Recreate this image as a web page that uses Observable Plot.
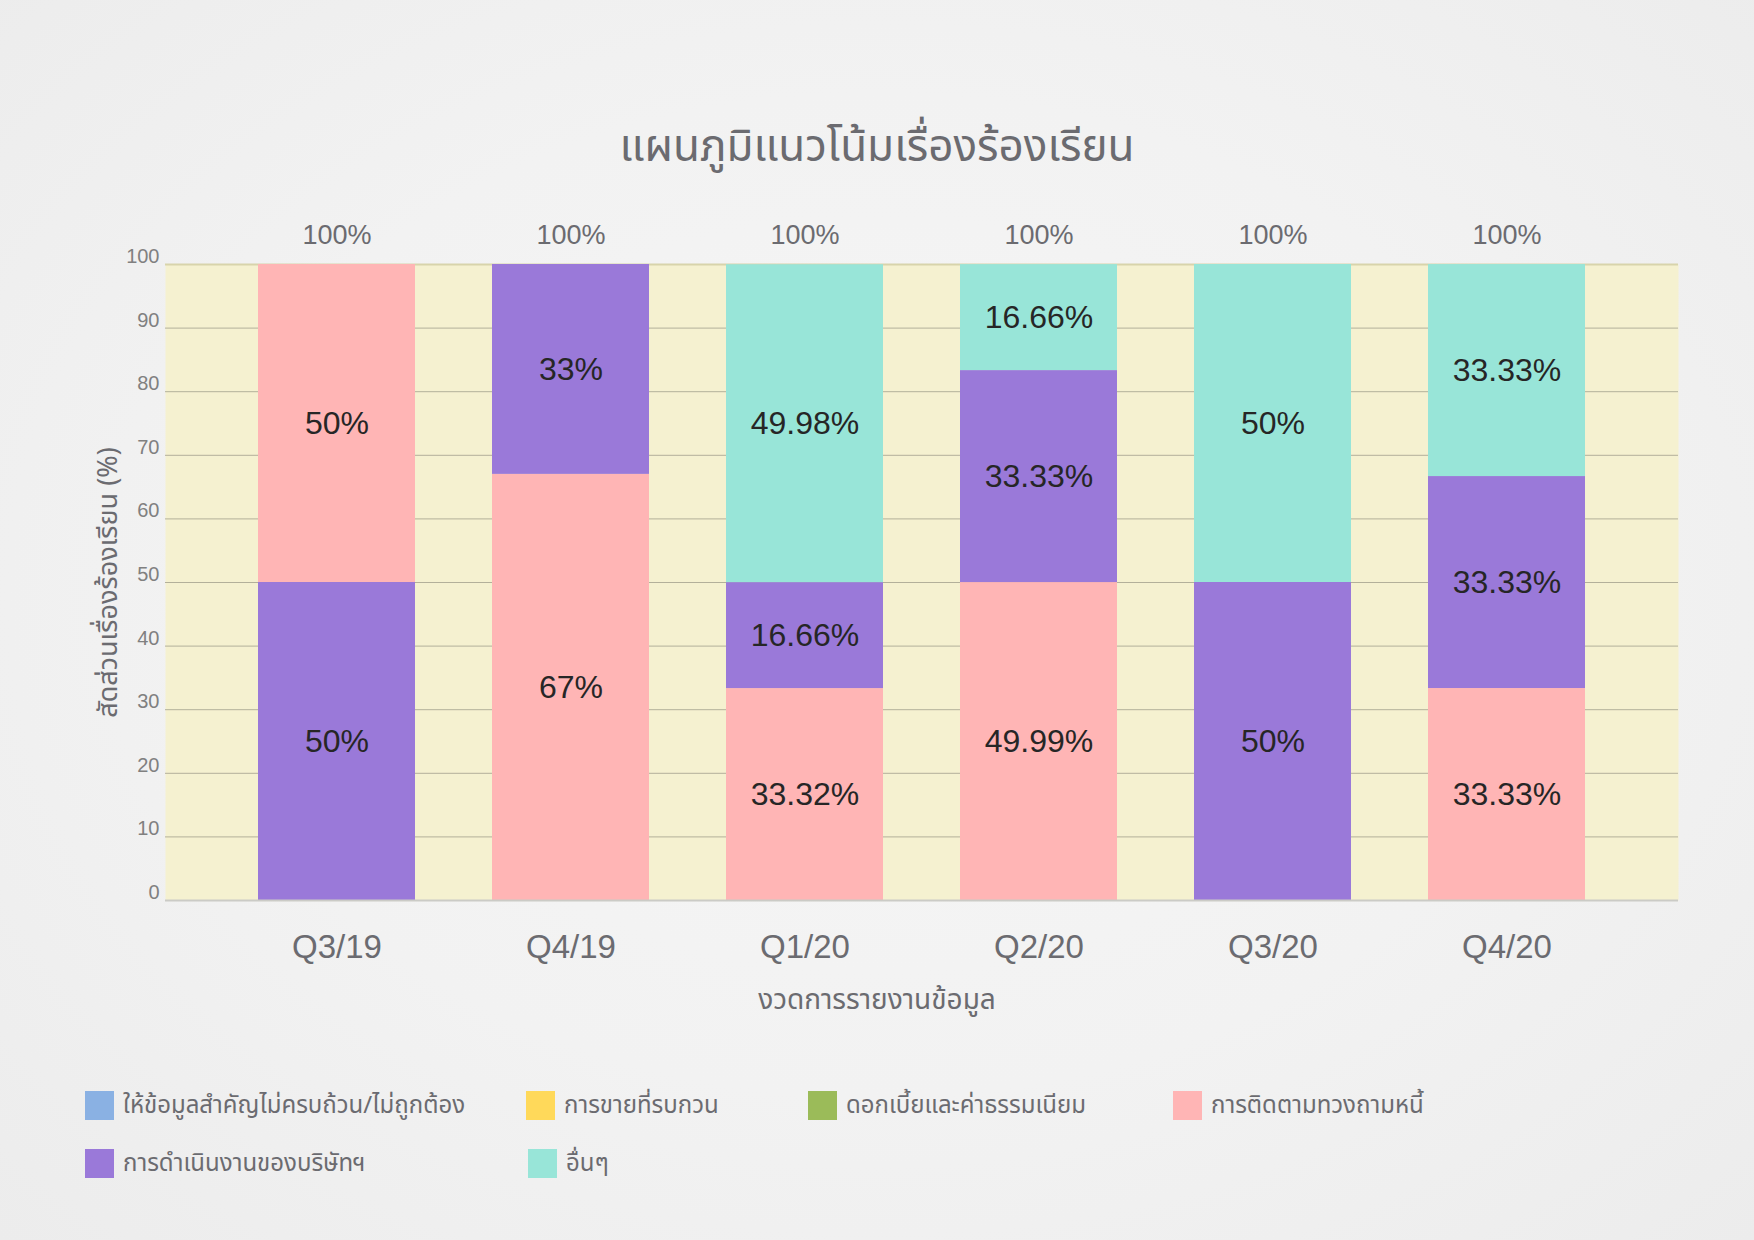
<!DOCTYPE html>
<html>
<head>
<meta charset="utf-8">
<script src="https://cdn.jsdelivr.net/npm/d3@7"></script>
<script src="https://cdn.jsdelivr.net/npm/@observablehq/plot@0.6"></script>
<style>
  html, body { margin: 0; padding: 0; }
  body {
    width: 1754px; height: 1240px; position: relative; overflow: hidden;
    background: radial-gradient(ellipse at 50% 48%, #f6f6f6 0%, #f2f2f2 55%, #ececec 100%);
    font-family: "Liberation Sans", "Noto Sans Thai", "Noto Sans", sans-serif;
  }
  #title { position: absolute; left: 0; width: 1754px; top: 114px; text-align: center;
    font-size: 44px; color: #6b6b70; font-family: "Noto Sans Thai", "Noto Sans", sans-serif; }
  #chart { position: absolute; left: 0; top: 180px; }
  #xlabel { position: absolute; left: 0; width: 1754px; top: 979px; text-align: center;
    font-size: 28px; color: #6b6b70; font-family: "Noto Sans Thai", "Noto Sans", sans-serif; }
  .leg { position: absolute; display: flex; align-items: center; font-size: 24px; color: #6b6b70;
    font-family: "Noto Sans Thai", "Noto Sans", sans-serif; white-space: nowrap; }
  .sw { width: 29px; height: 29px; margin-right: 9px; flex: none; }
</style>
</head>
<body>
<div id="title"></div>
<div id="chart"></div>
<div id="xlabel"></div>
<div id="legend"></div>
<script>
// ---- data ----
const quarters = ["Q3/19", "Q4/19", "Q1/20", "Q2/20", "Q3/20", "Q4/20"];
const seriesNames = [
  "ให้ข้อมูลสำคัญไม่ครบถ้วน/ไม่ถูกต้อง",
  "การขายที่รบกวน",
  "ดอกเบี้ยและค่าธรรมเนียม",
  "การติดตามทวงถามหนี้",
  "การดำเนินงานของบริษัทฯ",
  "อื่นๆ"
];
const seriesColors = ["#8ab1e3", "#ffd95a", "#9bbb59", "#ffb5b5", "#9a79d9", "#98e5d8"];
const debtCollection = [50, 67, 33.32, 49.99, 0, 33.33];   // การติดตามทวงถามหนี้
const companyOps     = [50, 33, 16.66, 33.33, 50, 33.33];   // การดำเนินงานของบริษัทฯ
const others         = [0, 0, 49.98, 16.66, 50, 33.33];     // อื่นๆ
const totals = [100, 100, 100, 100, 100, 100];
// bottom-to-top order of the series in each bar, as drawn in the picture
const stackSeq = [
  ["การดำเนินงานของบริษัทฯ", "การติดตามทวงถามหนี้", "อื่นๆ"],
  ["การติดตามทวงถามหนี้", "การดำเนินงานของบริษัทฯ", "อื่นๆ"],
  ["การติดตามทวงถามหนี้", "การดำเนินงานของบริษัทฯ", "อื่นๆ"],
  ["การติดตามทวงถามหนี้", "การดำเนินงานของบริษัทฯ", "อื่นๆ"],
  ["การติดตามทวงถามหนี้", "การดำเนินงานของบริษัทฯ", "อื่นๆ"],
  ["การติดตามทวงถามหนี้", "การดำเนินงานของบริษัทฯ", "อื่นๆ"]
];
const yTicks = [0, 10, 20, 30, 40, 50, 60, 70, 80, 90, 100];
const titleText = "แผนภูมิแนวโน้มเรื่องร้องเรียน";
const yLabel = "สัดส่วนเรื่องร้องเรียน (%)";
const xLabel = "งวดการรายงานข้อมูล";

// ---- build table ----
const valueOf = {
  "การติดตามทวงถามหนี้": debtCollection,
  "การดำเนินงานของบริษัทฯ": companyOps,
  "อื่นๆ": others
};
const rows = [];
quarters.forEach((q, i) => {
  stackSeq[i].forEach(s => {
    const v = valueOf[s][i];
    if (v > 0) rows.push({ q, s, v });
  });
});

document.getElementById("title").textContent = titleText;
document.getElementById("xlabel").textContent = xLabel;

const numFont = '"Liberation Sans", Arial, "Noto Sans", sans-serif';
const thaiFont = '"Noto Sans Thai", "Noto Sans", sans-serif';

const chart = Plot.plot({
  width: 1754,
  height: 860,
  marginLeft: 165,
  marginRight: 76,
  marginTop: 84,
  marginBottom: 140,
  style: { background: "transparent", fontFamily: numFont, overflow: "visible" },
  x: { domain: quarters, paddingInner: 0.331, paddingOuter: 0.392, label: null },
  y: { domain: [0, 100], label: null },
  color: { domain: seriesNames, range: seriesColors },
  marks: [
    Plot.frame({ fill: "#f5f1d0", stroke: null }),
    Plot.gridY(yTicks.slice(1, -1), { stroke: "#b3b09a", strokeOpacity: 1, strokeWidth: 1 }),
    Plot.ruleY([100], { stroke: "#d8d4ab", strokeWidth: 2 }),
    Plot.barY(rows, { x: "q", y: "v", z: "s", fill: "s" }),
    Plot.ruleY([0], { stroke: "#cbcbc6", strokeWidth: 2 }),
    Plot.text(rows, Plot.stackY({ x: "q", y: "v", z: "s", text: d => d.v + "%", fontSize: 32, fill: "#262626" })),
    Plot.text(quarters, { x: d => d, y: (d, i) => totals[i], text: (d, i) => totals[i] + "%", dy: -29, fontSize: 27, fill: "#6b6b70" }),
    Plot.axisY({ ticks: yTicks, tickSize: 0, tickPadding: 6, dy: -8, fontSize: 20, color: "#808080", label: null }),
    Plot.axisX({ tickSize: 0, tickPadding: 34, fontSize: 33, color: "#6b6b70", label: null }),
    Plot.text([yLabel], { frameAnchor: "left", textAnchor: "middle", rotate: -90, dx: -57, fontSize: 27, fill: "#6b6b70",
      fontFamily: thaiFont })
  ]
});
document.getElementById("chart").appendChild(chart);

// ---- legend ----
const legPos = [[85, 1091], [526, 1091], [808, 1091], [1173, 1091], [85, 1149], [528, 1149]];
const legend = document.getElementById("legend");
seriesNames.forEach((name, i) => {
  const d = document.createElement("div");
  d.className = "leg";
  d.style.left = legPos[i][0] + "px";
  d.style.top = legPos[i][1] + "px";
  d.style.height = "29px";
  const sw = document.createElement("span");
  sw.className = "sw";
  sw.style.background = seriesColors[i];
  const t = document.createElement("span");
  t.textContent = name;
  d.appendChild(sw);
  d.appendChild(t);
  legend.appendChild(d);
});
</script>
</body>
</html>
